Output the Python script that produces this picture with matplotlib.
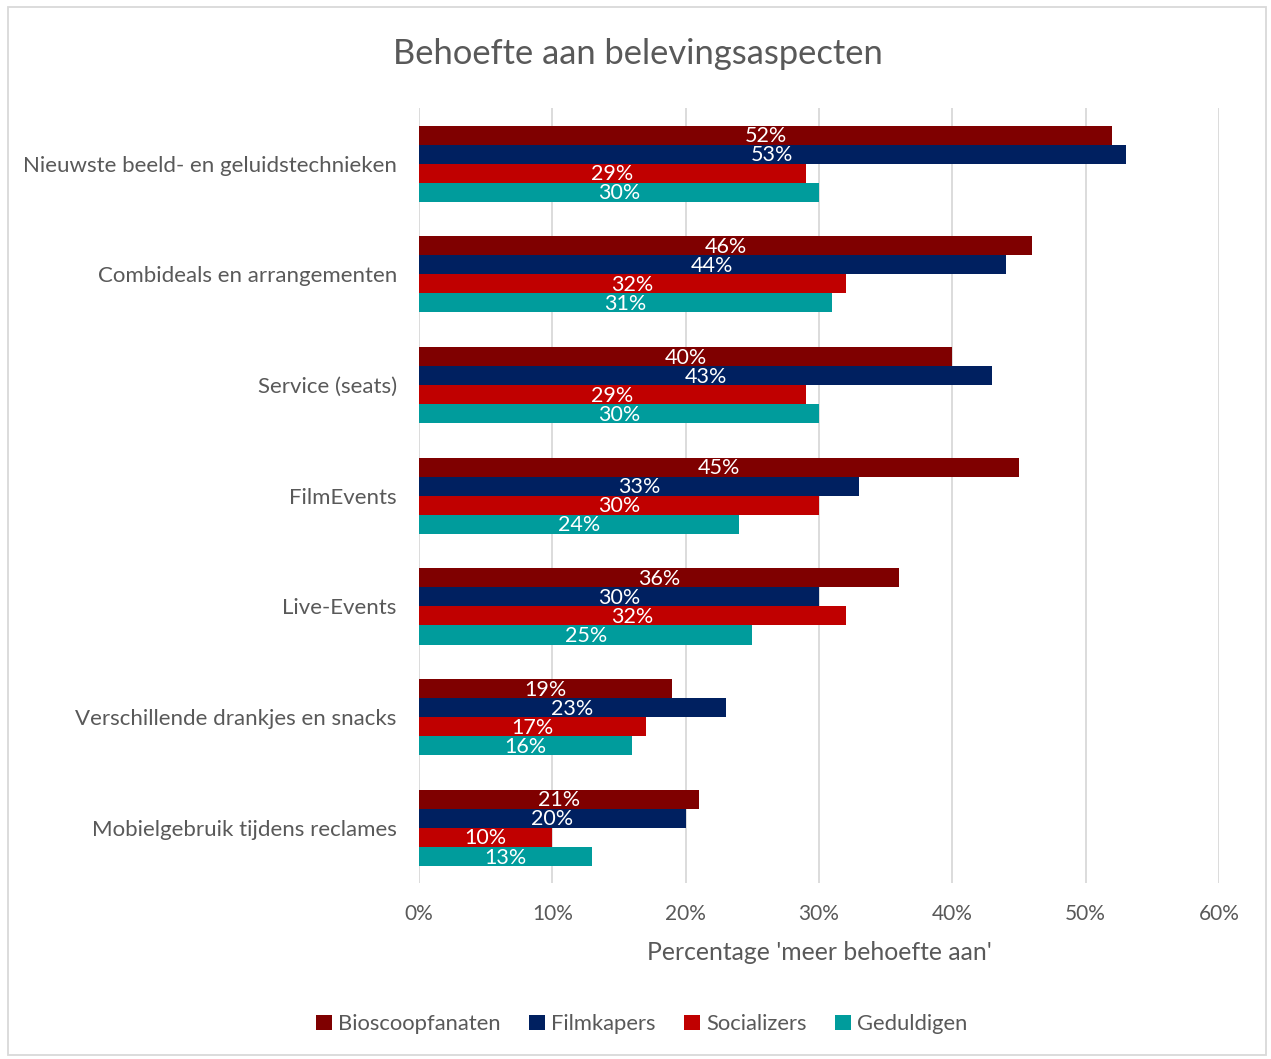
import numpy as np
from matplotlib import pyplot as plt
from matplotlib.patches import Rectangle

plt.rcParams['font.family'] = ['Lato', 'DejaVu Sans']

categories = ['Nieuwste beeld- en geluidstechnieken', 'Combideals en arrangementen',
              'Service (seats)', 'FilmEvents', 'Live-Events',
              'Verschillende drankjes en snacks', 'Mobielgebruik tijdens reclames']
series = ['Bioscoopfanaten', 'Filmkapers', 'Socializers', 'Geduldigen']
bioscoopfanaten = [52, 46, 40, 45, 36, 19, 21]
filmkapers = [53, 44, 43, 33, 30, 23, 20]
socializers = [29, 32, 29, 30, 32, 17, 10]
geduldigen = [30, 31, 30, 24, 25, 16, 13]
xticks = [0, 10, 20, 30, 40, 50, 60]

colors = ['#7f0000', '#002060', '#c00000', '#009c9c']
grey = '#595959'

fig = plt.figure(figsize=(12.71, 10.59), dpi=100)
ax = fig.add_axes([0.3297, 0.166, 0.6294, 0.7318])

y = np.arange(len(categories))
h = 0.172
for i, vals in enumerate([bioscoopfanaten, filmkapers, socializers, geduldigen]):
    pos = y + (i - 1.5) * h
    ax.barh(pos, vals, height=h, color=colors[i], label=series[i], zorder=3)
    for p, v in zip(pos, vals):
        ax.text(v / 2, p + 0.01, f'{v}%', color='white', ha='center', va='center',
                fontsize=15.5, zorder=4)

ax.set_xlim(0, 60)
ax.set_ylim(len(categories) - 0.5, -0.5)
ax.set_xticks(xticks)
ax.set_xticklabels([f'{t}%' for t in xticks], fontsize=15, color=grey)
ax.set_yticks(y)
ax.set_yticklabels(categories, fontsize=16, color=grey)
ax.tick_params(axis='x', length=0, pad=15)
ax.tick_params(axis='y', length=0, pad=16)
ax.xaxis.grid(True, color='#d9d9d9', linewidth=1.3, zorder=0)
for s in ax.spines.values():
    s.set_visible(False)
ax.set_xlabel("Percentage 'meer behoefte aan'", fontsize=17.8, color=grey, labelpad=12)

fig.text(0.502, 0.949, 'Behoefte aan belevingsaspecten', ha='center', va='center',
         fontsize=24.8, color=grey)

fig.legend(loc='center', bbox_to_anchor=(0.505, 0.033), ncol=4, frameon=False,
           fontsize=15.8, handlelength=0.7, handleheight=0.7, handletextpad=0.3,
           columnspacing=1.3, labelcolor=grey)

fig.patches.append(Rectangle((0.006, 0.004), 0.99, 0.989, transform=fig.transFigure,
                             fill=False, edgecolor='#d9d9d9', linewidth=1.3))

fig.savefig('out.png', dpi=100)
